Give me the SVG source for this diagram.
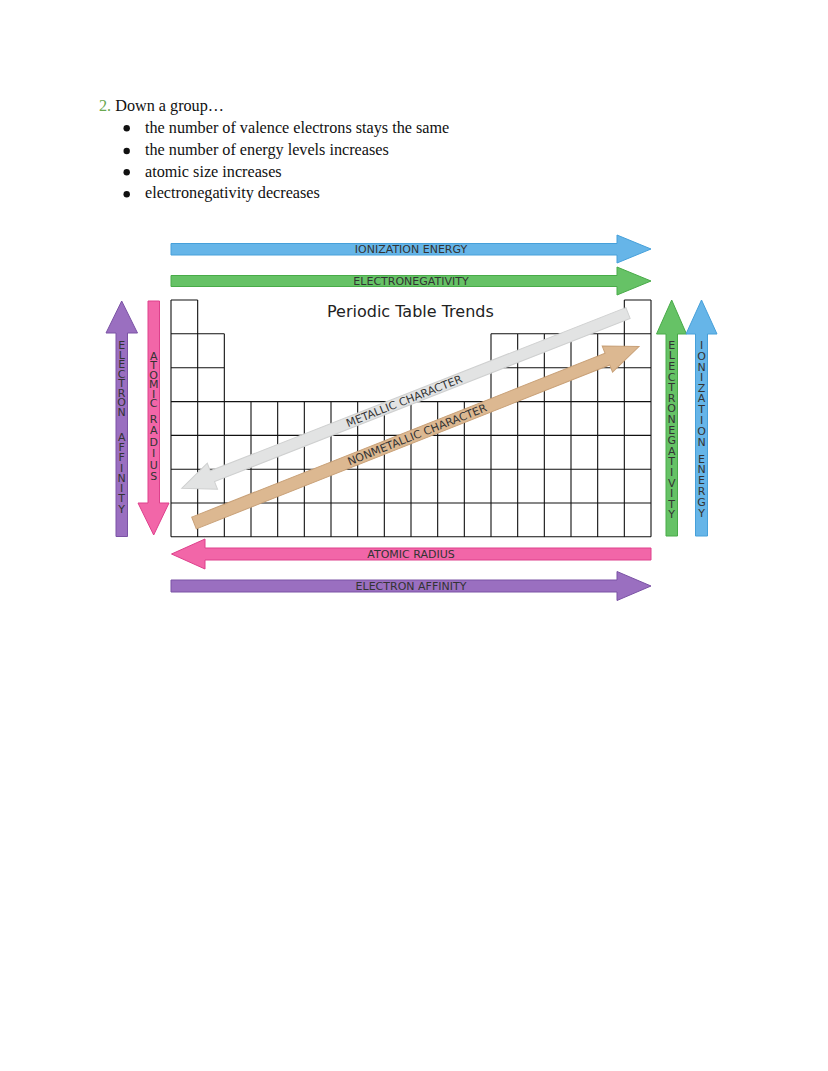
<svg xmlns="http://www.w3.org/2000/svg" width="828" height="1071" viewBox="0 0 828 1071">
<style>
.serif{font-family:"Liberation Serif","Times New Roman",serif;font-size:16.2px;fill:#111}
.lbl{font-family:"DejaVu Sans",Verdana,sans-serif;font-size:11px;fill:#333;text-anchor:middle}
.vl{font-family:"DejaVu Sans",Verdana,sans-serif;font-size:11px;fill:#333;text-anchor:middle}
.grid{fill:none;stroke:#111;stroke-width:1.1}
.blue{fill:#66b5e8;stroke:#46a0da;stroke-width:1}
.green{fill:#66c266;stroke:#48ab48;stroke-width:1}
.pink{fill:#f266a8;stroke:#de408c;stroke-width:1}
.purple{fill:#9a6fc0;stroke:#7b53a5;stroke-width:1}
.gray{fill:#e2e3e3;stroke:#cfd0d0;stroke-width:1}
.tan{fill:#dcb891;stroke:#c8a077;stroke-width:1}
</style>
<rect width="828" height="1071" fill="#ffffff"/>

<g id="notes">
<text class="serif" x="99" y="111"><tspan fill="#6aa84f">2.</tspan> Down a group…</text>
<circle cx="126.7" cy="128.3" r="3.2" fill="#111"/>
<text class="serif" x="145" y="133.3">the number of valence electrons stays the same</text>
<circle cx="126.7" cy="151" r="3.2" fill="#111"/>
<text class="serif" x="145" y="155">the number of energy levels increases</text>
<circle cx="126.7" cy="172.3" r="3.2" fill="#111"/>
<text class="serif" x="145" y="176.7">atomic size increases</text>
<circle cx="126.7" cy="194.3" r="3.2" fill="#111"/>
<text class="serif" x="145" y="198.3">electronegativity decreases</text>
</g>

<g id="table">
<path class="grid" d="M171,300H197.67M624.33,300H651
M171,333.8H224.33M491,333.8H651
M171,367.7H224.33M491,367.7H651
M171,401.6H651M171,435.4H651M171,469.2H651M171,503H651M171,536.8H651
M171,300V536.8M197.67,300V536.8M224.33,333.8V536.8
M251,401.6V536.8M277.67,401.6V536.8M304.33,401.6V536.8M331,401.6V536.8M357.67,401.6V536.8
M384.33,401.6V536.8M411,401.6V536.8M437.67,401.6V536.8M464.33,401.6V536.8
M491,333.8V536.8M517.67,333.8V536.8M544.33,333.8V536.8M571,333.8V536.8M597.67,333.8V536.8
M624.33,300V536.8M651,300V536.8"/>
<text id="title" x="327" y="317" style="font-family:'DejaVu Sans',Verdana,sans-serif;font-size:16px;fill:#222">Periodic Table Trends</text>
</g>

<g id="arrows">
<g id="arrow-ionization-top">
<path class="blue" d="M171,243.5H617V235L651,249L617,263V255H171Z"/>
<text class="lbl" x="411" y="253">IONIZATION ENERGY</text>
</g>
<g id="arrow-electronegativity-top">
<path class="green" d="M171,275.5H617V267L651,281L617,295V286.5H171Z"/>
<text class="lbl" x="411" y="285">ELECTRONEGATIVITY</text>
</g>
<g id="arrow-atomic-radius-bottom">
<path class="pink" d="M651,548H205V539L171.5,554L205,569V560H651Z"/>
<text class="lbl" x="411" y="558">ATOMIC RADIUS</text>
</g>
<g id="arrow-electron-affinity-bottom">
<path class="purple" d="M171,580H617V571.5L651,586L617,600.5V592H171Z"/>
<text class="lbl" x="411" y="590">ELECTRON AFFINITY</text>
</g>

<g id="arrow-electron-affinity-left">
<path class="purple" d="M116,536.5V333H106L121.7,301L137.5,333H127.5V536.5Z"/>
<text class="vl" x="121.7 121.7 121.7 121.7 121.7 121.7 121.7 121.7 121.7 121.7 121.7 121.7 121.7 121.7 121.7 121.7 121.7" y="348.8 358.8 368.3 377.8 387.3 396.8 406.3 415.8 428.3 440.8 451.1 461.4 471.8 481.8 492.1 502.4 512.8">ELECTRON AFFINITY</text>
</g>
<g id="arrow-atomic-radius-left">
<path class="pink" d="M148,301H159.5V503H169L153.7,535L138,503H148Z"/>
<text class="vl" x="153.7 153.7 153.7 153.7 153.7 153.7 153.7 153.7 153.7 153.7 153.7 153.7 153.7" y="359.8 369.3 378.8 388.3 397.8 407.3 414.8 423.3 434.3 445.8 457.3 468.8 480.3">ATOMIC RADIUS</text>
</g>
<g id="arrow-electronegativity-right">
<path class="green" d="M666,536V334H656.5L671.7,300L686.5,334H677.5V536Z"/>
<text class="vl" x="671.7 671.7 671.7 671.7 671.7 671.7 671.7 671.7 671.7 671.7 671.7 671.7 671.7 671.7 671.7 671.7 671.7" y="348.8 359.4 370 380.6 391.2 401.8 412.4 423 433.6 444.2 454.8 465.4 476 486.6 497.2 507.8 518.4">ELECTRONEGATIVITY</text>
</g>
<g id="arrow-ionization-right">
<path class="blue" d="M695.5,536V334H686L701.5,300L717,334H707.5V536Z"/>
<text class="vl" x="701.5 701.5 701.5 701.5 701.5 701.5 701.5 701.5 701.5 701.5 701.5 701.5 701.5 701.5 701.5 701.5 701.5" y="348.8 359.8 370.8 380.8 391.8 402.3 413.3 423.8 434.8 445.8 454.3 462.8 473.3 483.8 494.8 505.8 516.8">IONIZATION ENERGY</text>
</g>

<g id="arrow-metallic" transform="translate(181.7,488.3) rotate(-21.44)">
<path class="gray" d="M0,0L33,-14L33,-5.8L479.5,-5.8L479.5,5.8L33,5.8L33,14Z"/>
<text class="lbl" x="239" y="3.9">METALLIC CHARACTER</text>
</g>
<g id="arrow-nonmetallic" transform="translate(194,523) rotate(-21.63)">
<path class="tan" d="M0,-6.3L444.7,-6.3L444.7,-14L478.7,0L444.7,14L444.7,6.3L0,6.3Z"/>
<text class="lbl" x="240" y="3.9">NONMETALLIC CHARACTER</text>
</g>
</g>
</svg>
